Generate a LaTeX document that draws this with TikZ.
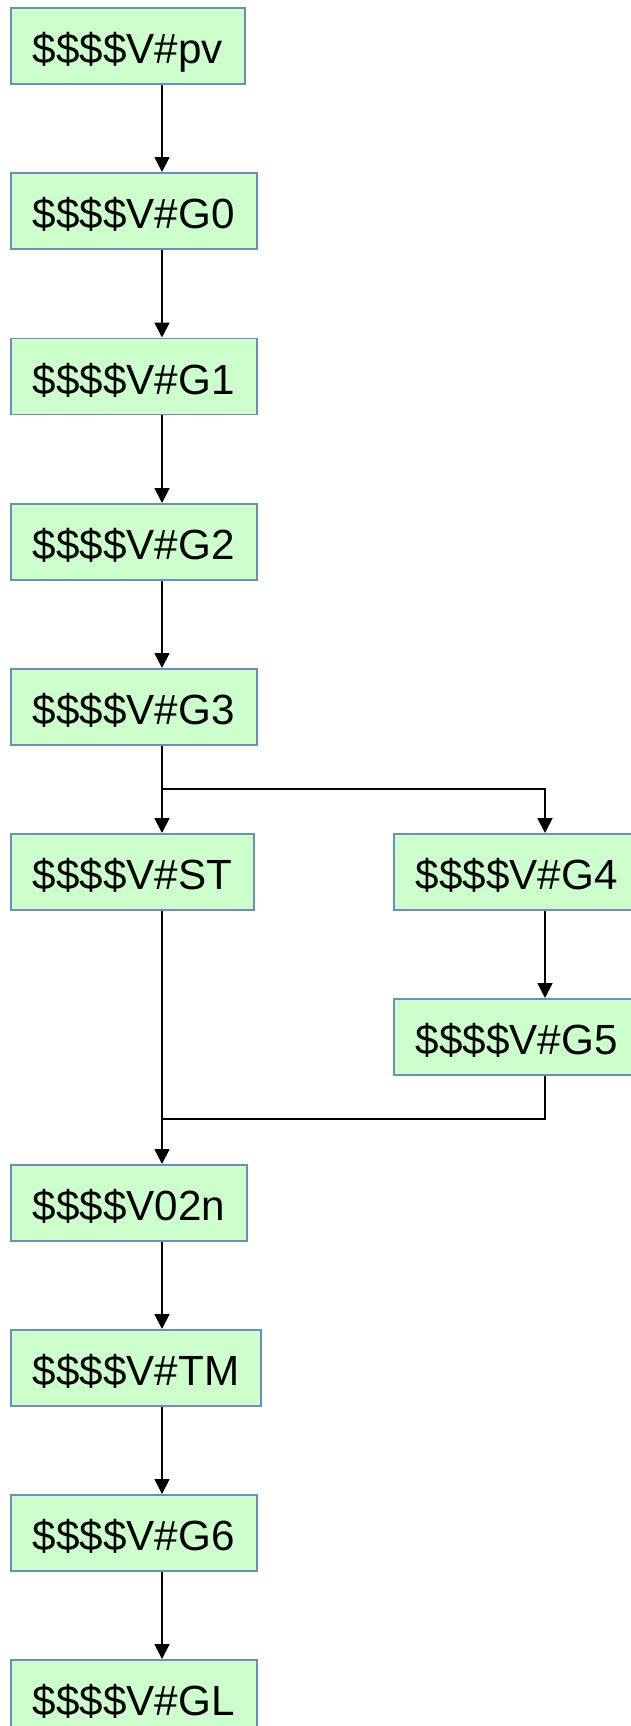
\documentclass[tikz,border=0pt]{standalone}
\usepackage{fontspec}
\setmainfont{Liberation Sans}
\usetikzlibrary{arrows.meta}
\definecolor{boxfill}{HTML}{CCFFCC}
\definecolor{boxline}{HTML}{6C8EBF}
\begin{document}
\begin{tikzpicture}[x=1pt,y=-1pt,
  box/.style={draw=boxline,fill=boxfill,line width=1.8pt,rectangle,anchor=north west,
    minimum height=76pt,inner xsep=22pt,inner ysep=0pt,text height=36pt,text depth=0pt,
    font=\fontsize{42.2pt}{50pt}\selectfont},
  arr/.style={line width=1.8pt,-{Triangle[width=15pt,length=15pt]}},
  ln/.style={line width=1.8pt}]
\useasboundingbox (0,0) rectangle (630,1726);
\coordinate (ax) at (162,0);
\coordinate (bx) at (545,0);
\node[box] (pv) at (10,7) {\$\$\$\$V\#pv};
\node[box] (G0) at (10,172) {\$\$\$\$V\#G0};
\node[box] (G1) at (10,337.5) {\$\$\$\$V\#G1};
\node[box] (G2) at (10,503) {\$\$\$\$V\#G2};
\node[box] (G3) at (10,668) {\$\$\$\$V\#G3};
\node[box] (ST) at (10,833) {\$\$\$\$V\#ST};
\node[box] (G4) at (393,833) {\$\$\$\$V\#G4};
\node[box] (G5) at (393,998) {\$\$\$\$V\#G5};
\node[box] (V02n) at (10,1164) {\$\$\$\$V02n};
\node[box] (TM) at (10,1329) {\$\$\$\$V\#TM};
\node[box] (G6) at (10,1494) {\$\$\$\$V\#G6};
\node[box] (GL) at (10,1659) {\$\$\$\$V\#GL};
\coordinate (sp) at (162,789);
\coordinate (mg) at (162,1119);
\draw[arr] (pv.south -| ax) -- (G0.north -| ax);
\draw[arr] (G0.south -| ax) -- (G1.north -| ax);
\draw[arr] (G1.south -| ax) -- (G2.north -| ax);
\draw[arr] (G2.south -| ax) -- (G3.north -| ax);
\draw[arr] (G3.south -| ax) -- (ST.north -| ax);
\draw[arr] (sp) -| (G4.north -| bx);
\draw[arr] (G4.south -| bx) -- (G5.north -| bx);
\draw[arr] (ST.south -| ax) -- (V02n.north -| ax);
\draw[ln] (G5.south -| bx) |- (mg);
\draw[arr] (V02n.south -| ax) -- (TM.north -| ax);
\draw[arr] (TM.south -| ax) -- (G6.north -| ax);
\draw[arr] (G6.south -| ax) -- (GL.north -| ax);
\end{tikzpicture}
\end{document}
